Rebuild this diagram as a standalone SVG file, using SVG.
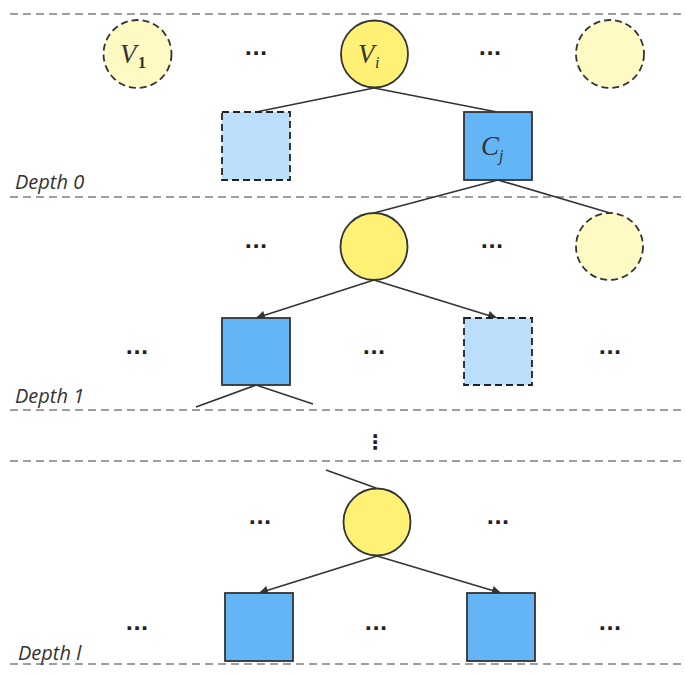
<svg xmlns="http://www.w3.org/2000/svg" width="685" height="675" viewBox="0 0 685 675">
<style>
.sep{stroke:#9e9e9e;stroke-width:2;stroke-dasharray:8,5;fill:none}
.vs{fill:#fff176;stroke:#333;stroke-width:1.8}
.vd{fill:#fff9c4;stroke:#333;stroke-width:1.8;stroke-dasharray:7,4}
.cs{fill:#64b5f6;stroke:#333;stroke-width:1.8}
.cd{fill:#bbdefb;stroke:#222;stroke-width:1.8;stroke-dasharray:7,4}
.e{stroke:#333;stroke-width:1.7;fill:none}
.dots{font-family:"DejaVu Sans",sans-serif;font-size:20px;fill:#222;text-anchor:middle;font-weight:bold}
.m{font-family:"Liberation Serif",serif;font-style:italic;font-size:27px;fill:#333}
.sub{font-family:"Liberation Serif",serif;font-size:16px;fill:#333}
.lbl{font-family:"Open Sans","Liberation Sans",sans-serif;font-style:italic;font-size:20px;fill:#333}
</style>
<defs>
<marker id="ah" viewBox="0 0 10 10" refX="10" refY="5" markerWidth="10" markerHeight="9" markerUnits="userSpaceOnUse" orient="auto">
<path d="M0,0 L10,5 L0,10 z" fill="#333"/>
</marker>
</defs>
<rect width="685" height="675" fill="#fff"/>
<g id="separators">
<line class="sep" x1="10" y1="14" x2="685" y2="14"/>
<line class="sep" x1="10" y1="197" x2="685" y2="197"/>
<line class="sep" x1="10" y1="410" x2="685" y2="410"/>
<line class="sep" x1="10" y1="461" x2="685" y2="461"/>
<line class="sep" x1="10" y1="664" x2="685" y2="664"/>
</g>
<g id="connectors">
<line class="e" x1="374" y1="88" x2="256" y2="112"/>
<line class="e" x1="374" y1="88" x2="497" y2="112"/>
<line class="e" x1="498" y1="180" x2="374" y2="213"/>
<line class="e" x1="498" y1="180" x2="610" y2="213"/>
<line class="e" x1="374" y1="280" x2="256" y2="318" marker-end="url(#ah)"/>
<line class="e" x1="374" y1="280" x2="497" y2="318" marker-end="url(#ah)"/>
<line class="e" x1="256" y1="385" x2="196" y2="407"/>
<line class="e" x1="256" y1="385" x2="313" y2="404"/>
<line class="e" x1="326" y1="470" x2="376" y2="488"/>
<line class="e" x1="377" y1="556" x2="259" y2="593" marker-end="url(#ah)"/>
<line class="e" x1="377" y1="556" x2="501" y2="593" marker-end="url(#ah)"/>
</g>
<g id="V1"><circle class="vd" cx="137.5" cy="54" r="34"/>
<text class="m" x="120" y="63">V</text><text class="sub" x="138" y="68" font-weight="bold">1</text></g>
<g id="Vi"><circle class="vs" cx="374.5" cy="54" r="33.5"/>
<text class="m" x="358" y="63">V</text><text class="sub" x="375" y="68" font-style="italic">i</text></g>
<g id="V0_right"><circle class="vd" cx="610" cy="54" r="34"/></g>
<g id="C0_left"><rect class="cd" x="222" y="112" width="68" height="68"/></g>
<g id="Cj"><rect class="cs" x="464" y="112" width="68" height="68"/>
<text class="m" x="481" y="155">C</text><text class="sub" x="499" y="161" font-style="italic">j</text></g>
<g id="V1_mid"><circle class="vs" cx="374" cy="246.5" r="33.5"/></g>
<g id="V1_right"><circle class="vd" cx="609.5" cy="246.5" r="33.5"/></g>
<g id="C1_left"><rect class="cs" x="222" y="318" width="68" height="67"/></g>
<g id="C1_right"><rect class="cd" x="464" y="318" width="68" height="67"/></g>
<g id="Vl"><circle class="vs" cx="377" cy="522" r="33.5"/></g>
<g id="Cl_left"><rect class="cs" x="225" y="593" width="68" height="68"/></g>
<g id="Cl_right"><rect class="cs" x="467" y="593" width="68" height="68"/></g>
<g id="ellipses">
<text class="dots" x="256" y="60">···</text>
<text class="dots" x="490" y="60">···</text>
<text class="dots" x="256" y="253">···</text>
<text class="dots" x="492" y="253">···</text>
<text class="dots" x="137" y="359">···</text>
<text class="dots" x="374" y="359">···</text>
<text class="dots" x="610" y="359">···</text>
<text class="dots" x="375" y="449">⋮</text>
<text class="dots" x="260" y="529">···</text>
<text class="dots" x="498" y="529">···</text>
<text class="dots" x="137" y="635">···</text>
<text class="dots" x="376" y="635">···</text>
<text class="dots" x="610" y="635">···</text>
</g>
<g id="labels">
<text class="lbl" x="15" y="189">Depth 0</text>
<text class="lbl" x="15" y="403">Depth 1</text>
<text class="lbl" x="18" y="660">Depth l</text>
</g>
</svg>
